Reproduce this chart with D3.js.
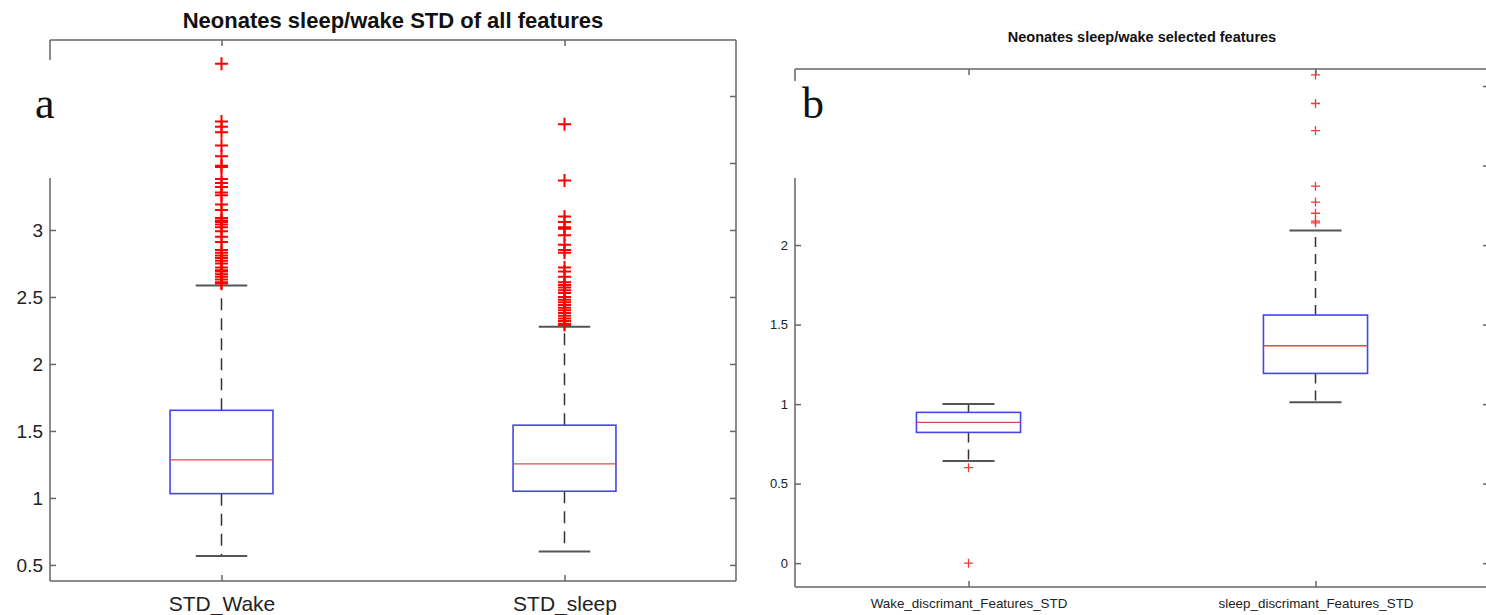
<!DOCTYPE html>
<html><head><meta charset="utf-8">
<script src="https://cdn.jsdelivr.net/npm/d3@7"></script>
<style>body{margin:0;background:#fff}svg{display:block}</style>
</head><body>
<svg id="chart" width="1486" height="615"></svg>
<script>
// ---------- DATA ----------
// Panel a
const catsA = ["STD_Wake", "STD_sleep"];
const aLow  = [0.567, 0.600];
const aQ1   = [1.032, 1.050];
const aMed  = [1.284, 1.254];
const aQ3   = [1.654, 1.543];
const aHigh = [2.585, 2.278];
const aOutWake  = [4.24, 3.81, 3.77, 3.73, 3.63, 3.55, 3.48, 3.47, 3.38, 3.35, 3.32, 3.28, 3.26, 3.19, 3.15,
                   3.09, 3.07, 3.06, 3.04, 3.02, 2.99, 2.95, 2.91, 2.85, 2.83, 2.81, 2.79, 2.77, 2.75, 2.72,
                   2.70, 2.69, 2.67, 2.65, 2.63, 2.61, 2.60];
const aOutSleep = [3.79, 3.37, 3.10, 3.06, 3.02, 3.01, 2.96, 2.89, 2.85, 2.83, 2.72, 2.69, 2.65, 2.61, 2.59,
                   2.57, 2.55, 2.53, 2.50, 2.48, 2.46, 2.44, 2.42, 2.40, 2.38, 2.36, 2.34, 2.32, 2.30, 2.29];
const aTicksLabeled = [0.5, 1, 1.5, 2, 2.5, 3];
const aTicksAll     = [0.5, 1, 1.5, 2, 2.5, 3, 3.5, 4];
const titleA = "Neonates sleep/wake STD of all features";

// Panel b
const catsB = ["Wake_discrimant_Features_STD", "sleep_discrimant_Features_STD"];
const bLow  = [0.643, 1.011];
const bQ1   = [0.822, 1.193];
const bMed  = [0.885, 1.367];
const bQ3   = [0.948, 1.560];
const bHigh = [1.000, 2.092];
const bOutWake  = [0.60, 0.0];
const bOutSleep = [3.07, 2.89, 2.72, 2.37, 2.27, 2.20, 2.15, 2.14];
const bTicksLabeled = [0, 0.5, 1, 1.5, 2];
const bTicksAll     = [0, 0.5, 1, 1.5, 2, 2.5, 3];
const titleB = "Neonates sleep/wake selected features";

// ---------- DRAW ----------
const svg = d3.select("#chart");
const AX = "#666";

function panel(cfg) {
  const {left, right, top, bottom, domain, cats, low, q1, med, q3, high, outs,
         ticksLab, ticksAll, title, titleSize, titleY, tickFont, catFont, catY,
         letter, letterX, gapTop, gapBottom, plus, plusW, plusColor, dash, boxColor, medColor} = cfg;
  const g = svg.append("g");
  const y = d3.scaleLinear().domain(domain).range([bottom, top]);
  const x = d3.scalePoint().domain(cats).range([left, right]).padding(0.5);
  const step = x.step();
  const bw = step * 0.15;

  g.append("line").attr("x1", left).attr("x2", right).attr("y1", top).attr("y2", top).attr("stroke", AX).attr("stroke-width", 1.5);
  g.append("line").attr("x1", right).attr("x2", right).attr("y1", top).attr("y2", bottom).attr("stroke", AX).attr("stroke-width", 1.5);
  g.append("line").attr("x1", left).attr("x2", right).attr("y1", bottom).attr("y2", bottom).attr("stroke", AX).attr("stroke-width", 1.5);
  g.append("line").attr("x1", left).attr("x2", left).attr("y1", top).attr("y2", gapTop).attr("stroke", AX).attr("stroke-width", 1.5);
  g.append("line").attr("x1", left).attr("x2", left).attr("y1", gapBottom).attr("y2", bottom).attr("stroke", AX).attr("stroke-width", 1.5);

  const la = g.append("g").attr("transform", `translate(${left},0)`)
    .call(d3.axisLeft(y).tickValues(ticksLab).tickSize(-6).tickPadding(7).tickFormat(d3.format("")));
  la.select(".domain").remove();
  la.selectAll("line").attr("stroke", AX).attr("stroke-width", 1.5);
  la.selectAll("text").attr("font-family", "Liberation Sans, Arial, sans-serif").attr("font-size", tickFont).attr("fill", "#222");

  const ra = g.append("g").attr("transform", `translate(${right},0)`)
    .call(d3.axisRight(y).tickValues(ticksAll).tickSize(-6).tickFormat(""));
  ra.select(".domain").remove();
  ra.selectAll("line").attr("stroke", AX).attr("stroke-width", 1.5);

  const ta = g.append("g").attr("transform", `translate(0,${top})`).call(d3.axisTop(x).tickSize(-6).tickFormat(""));
  ta.select(".domain").remove();
  ta.selectAll("line").attr("stroke", AX).attr("stroke-width", 1.5);
  const ba = g.append("g").attr("transform", `translate(0,${bottom})`)
    .call(d3.axisBottom(x).tickSize(-6).tickPadding(0));
  ba.select(".domain").remove();
  ba.selectAll("line").attr("stroke", AX).attr("stroke-width", 1.5);
  ba.selectAll("text").attr("y", catY - bottom).attr("dy", 0)
    .attr("font-family", "Liberation Sans, Arial, sans-serif").attr("font-size", catFont).attr("fill", "#222");

  cats.forEach((c, i) => {
    const cx = x(c);
    g.append("line").attr("x1", cx).attr("x2", cx).attr("y1", y(q3[i])).attr("y2", y(high[i]))
      .attr("stroke", "#333").attr("stroke-width", 1.5).attr("stroke-dasharray", dash);
    g.append("line").attr("x1", cx).attr("x2", cx).attr("y1", y(q1[i])).attr("y2", y(low[i]))
      .attr("stroke", "#333").attr("stroke-width", 1.5).attr("stroke-dasharray", dash);
    [low[i], high[i]].forEach(v => {
      g.append("line").attr("x1", cx - bw / 2).attr("x2", cx + bw / 2).attr("y1", y(v)).attr("y2", y(v))
        .attr("stroke", "#555").attr("stroke-width", 2);
    });
    g.append("rect").attr("x", cx - bw).attr("width", 2 * bw)
      .attr("y", y(q3[i])).attr("height", y(q1[i]) - y(q3[i]))
      .attr("fill", "none").attr("stroke", boxColor).attr("stroke-width", 1.6);
    g.append("line").attr("x1", cx - bw).attr("x2", cx + bw).attr("y1", y(med[i])).attr("y2", y(med[i]))
      .attr("stroke", medColor).attr("stroke-width", 1.4);
    outs[i].forEach(v => {
      const py = y(v);
      g.append("path")
        .attr("d", `M${cx - plus},${py}H${cx + plus}M${cx},${py - plus}V${py + plus}`)
        .attr("stroke", plusColor).attr("stroke-width", plusW).attr("fill", "none");
    });
  });

  g.append("text").attr("x", (left + right) / 2).attr("y", titleY).attr("text-anchor", "middle")
    .attr("font-family", "Liberation Sans, Arial, sans-serif").attr("font-weight", "bold")
    .attr("font-size", titleSize).attr("fill", "#111").text(title);
  g.append("text").attr("x", letterX).attr("y", 118)
    .attr("font-family", "Liberation Serif, Times New Roman, serif").attr("font-size", 44)
    .attr("fill", "#111").text(letter);
  return g;
}

panel({
  left: 50, right: 736, top: 40, bottom: 581, domain: [0.38, 4.418],
  cats: catsA, low: aLow, q1: aQ1, med: aMed, q3: aQ3, high: aHigh, outs: [aOutWake, aOutSleep],
  ticksLab: aTicksLabeled, ticksAll: aTicksAll, title: titleA, titleSize: 22, titleY: 28,
  tickFont: 19, catFont: 21, catY: 611, letter: "a", letterX: 35, gapTop: 60, gapBottom: 178,
  plus: 6.5, plusW: 2, plusColor: "#ff0000", dash: "12,8", boxColor: "#4646e6", medColor: "#e04848"
});

panel({
  left: 795, right: 1489, top: 69, bottom: 587, domain: [-0.15, 3.107],
  cats: catsB, low: bLow, q1: bQ1, med: bMed, q3: bQ3, high: bHigh, outs: [bOutWake, bOutSleep],
  ticksLab: bTicksLabeled, ticksAll: bTicksAll, title: titleB, titleSize: 14.5, titleY: 42,
  tickFont: 13, catFont: 13.4, catY: 608, letter: "b", letterX: 802, gapTop: 81, gapBottom: 178,
  plus: 4.5, plusW: 1.3, plusColor: "#f03a3a", dash: "10,7", boxColor: "#4646e6", medColor: "#e04848"
});
</script>
</body></html>
